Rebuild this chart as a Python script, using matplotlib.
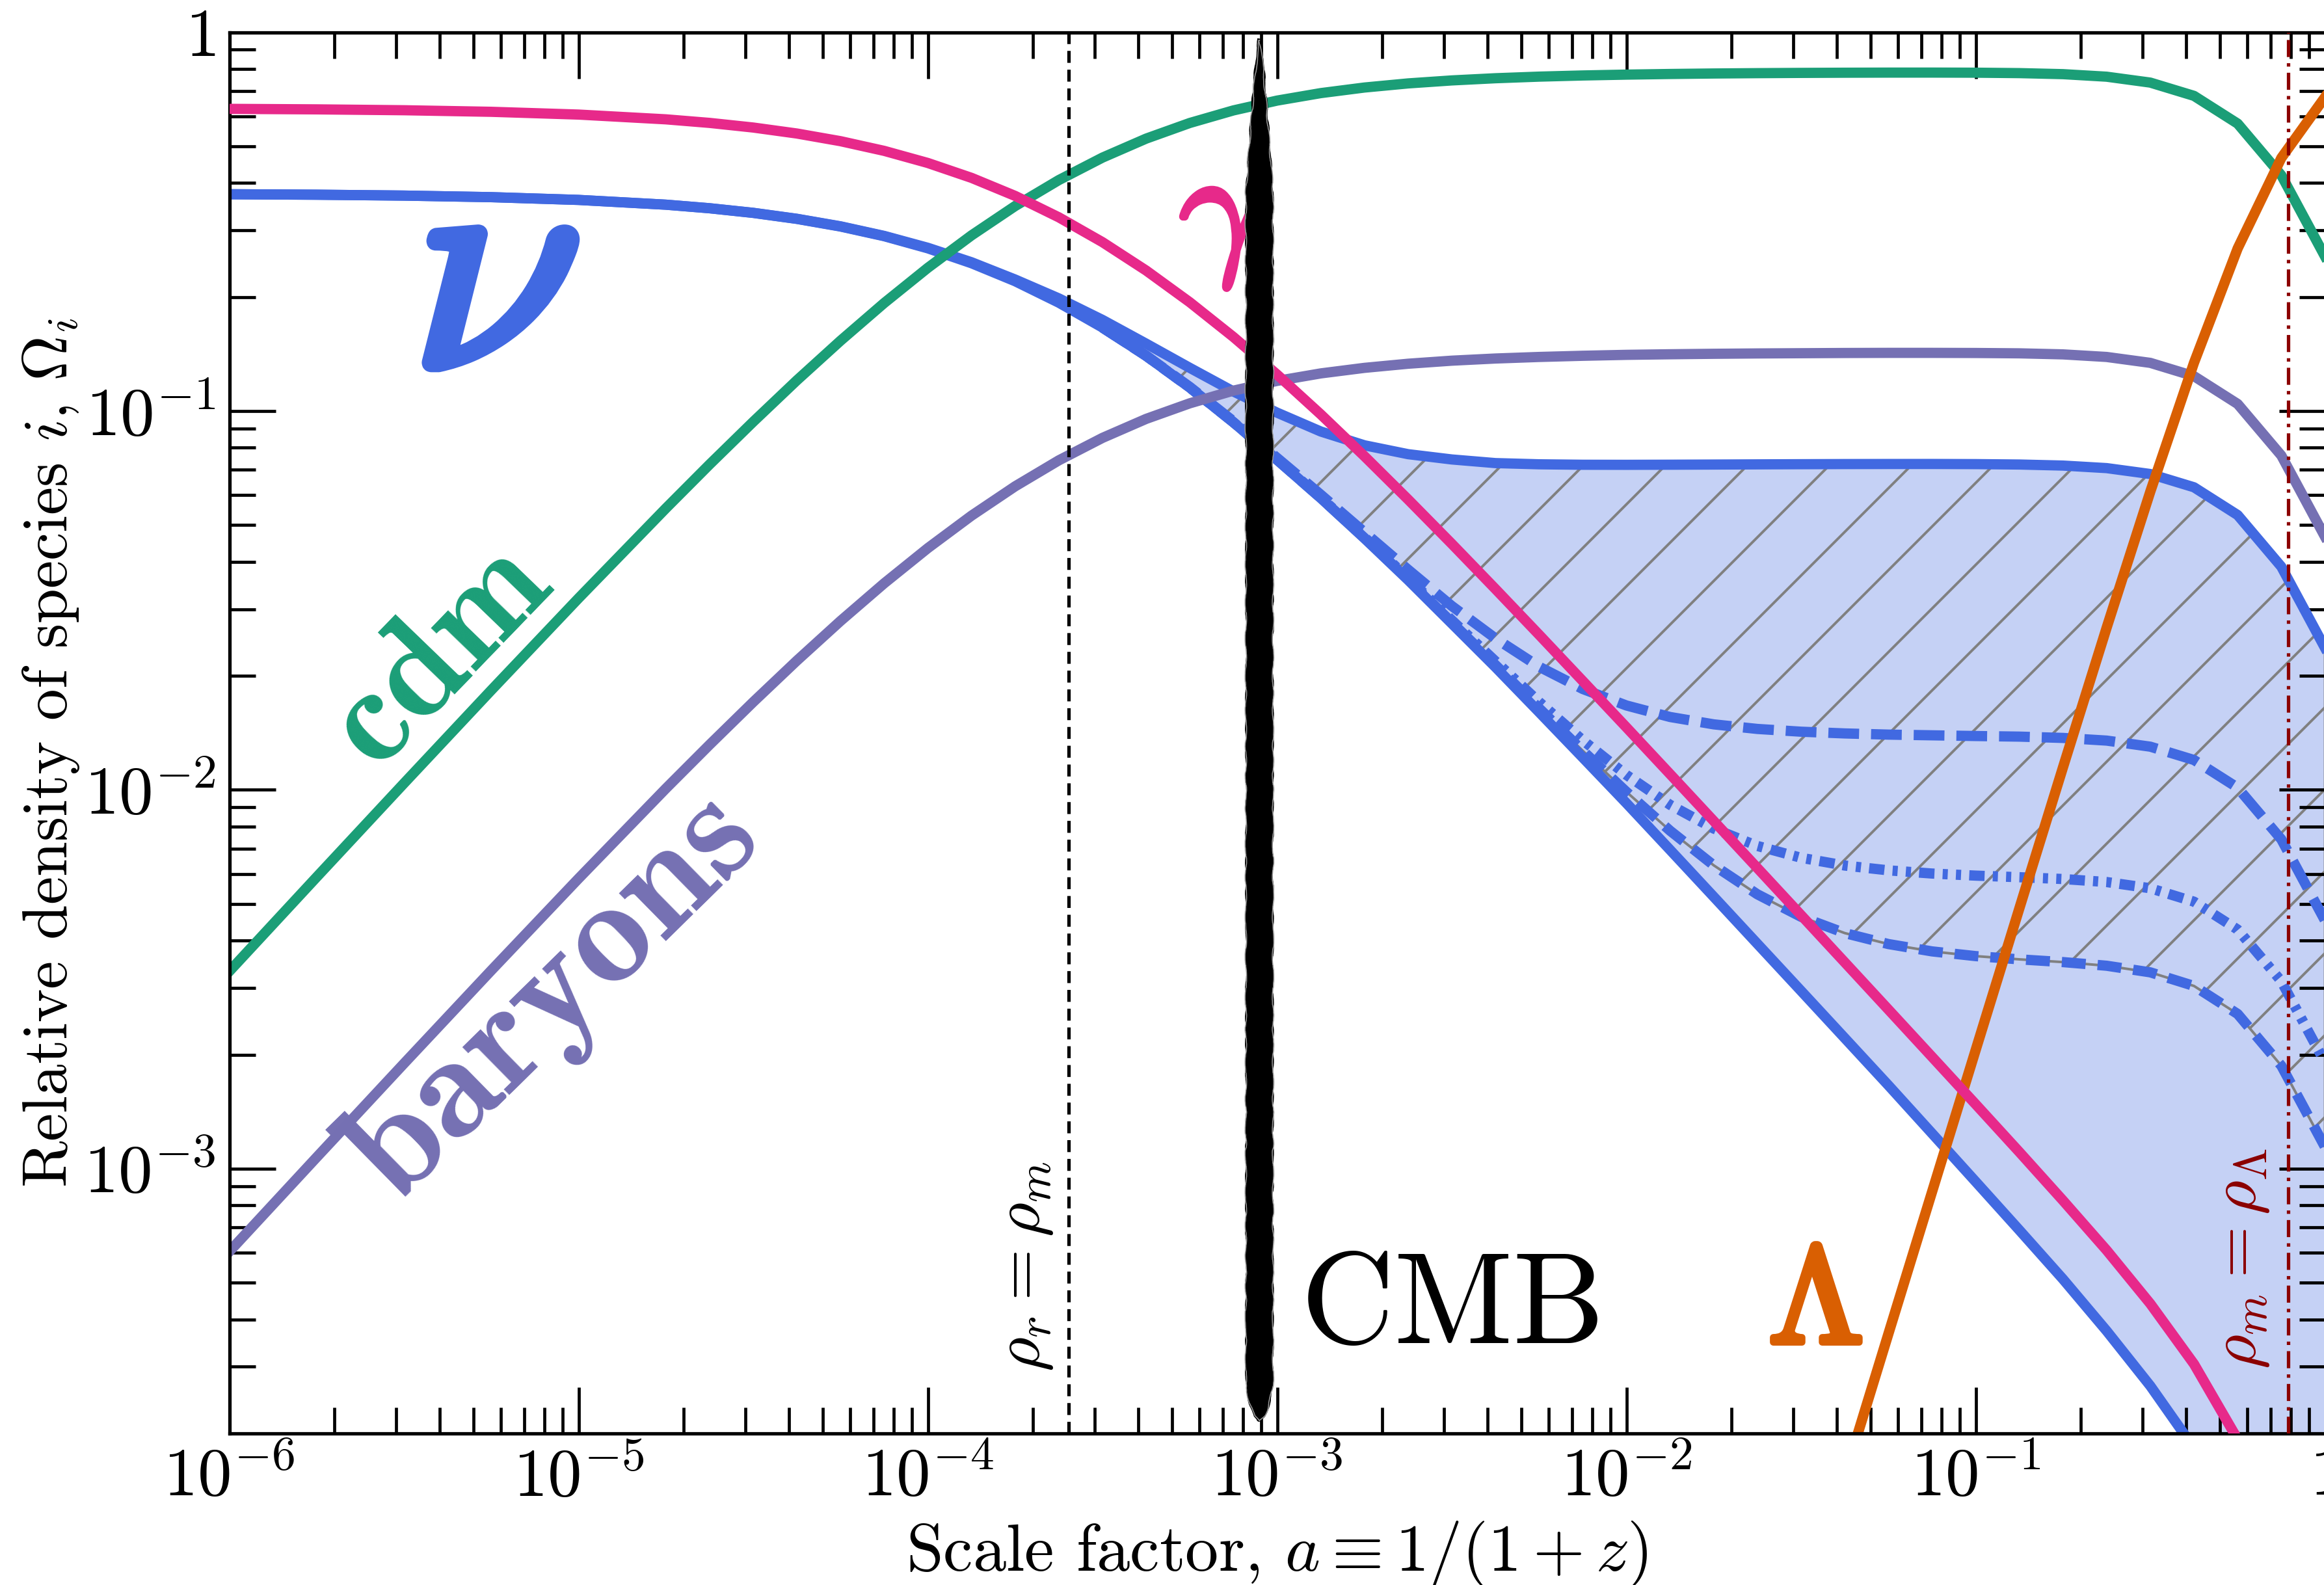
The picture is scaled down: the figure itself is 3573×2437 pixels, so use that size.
import numpy as np
import matplotlib
matplotlib.use("Agg")
import matplotlib.pyplot as plt
import matplotlib.patheffects as pe
from matplotlib.patches import Polygon
from matplotlib.ticker import FixedLocator, FixedFormatter, LogLocator, NullFormatter

# ---------------------------------------------------------------------------
# Density fractions Omega_i(a) of each species versus scale factor a
# ---------------------------------------------------------------------------
a = [1e-6, 1.778e-6, 3.162e-6, 5.623e-6, 1e-5, 1.778e-5, 2.371e-5, 3.162e-5,
     4.217e-5, 5.623e-5, 7.499e-5, 1e-4, 1.334e-4, 1.778e-4, 2.371e-4,
     3.162e-4, 4.217e-4, 5.623e-4, 7.499e-4, 1e-3, 1.334e-3, 1.778e-3,
     2.371e-3, 3.162e-3, 4.217e-3, 5.623e-3, 7.499e-3, 1e-2, 1.334e-2,
     1.778e-2, 2.371e-2, 3.162e-2, 4.217e-2, 5.623e-2, 7.499e-2, 0.1, 0.1334,
     0.1778, 0.2371, 0.3162, 0.4217, 0.5623, 0.7499, 1.0]

omega_gamma = [0.6275, 0.6256, 0.6223, 0.6164, 0.6061, 0.5888, 0.5762, 0.5602,
               0.5402, 0.5156, 0.4861, 0.4516, 0.4125, 0.3697, 0.3246, 0.2791,
               0.2349, 0.1937, 0.1568, 0.1248, 0.09793, 0.07599, 0.05842,
               0.04462, 0.03390, 0.02567, 0.01938, 0.01462, 0.01100, 0.008275,
               0.006218, 0.004670, 0.003506, 0.002631, 0.001973, 0.001479,
               0.001106, 0.000824, 0.000609, 0.000440, 0.000305, 0.000193,
               0.000106, 0.0000484]

omega_cdm = [0.003318, 0.005882, 0.01040, 0.01832, 0.03205, 0.05535, 0.07225,
             0.09365, 0.1205, 0.1533, 0.1928, 0.2388, 0.2909, 0.3476, 0.4070,
             0.4666, 0.5237, 0.5759, 0.6217, 0.6599, 0.6906, 0.7144, 0.7325,
             0.7459, 0.7559, 0.7633, 0.7687, 0.7727, 0.7757, 0.7780, 0.7796,
             0.7808, 0.7817, 0.7822, 0.7823, 0.7818, 0.7798, 0.7749, 0.7630,
             0.7361, 0.6791, 0.5737, 0.4192, 0.2559]

omega_baryons = [0.000604, 0.001071, 0.001894, 0.003336, 0.005833, 0.01008,
                 0.01315, 0.01705, 0.02193, 0.02791, 0.03509, 0.04346, 0.05295,
                 0.06327, 0.07409, 0.08493, 0.09533, 0.1048, 0.1132, 0.1201,
                 0.1257, 0.1300, 0.1333, 0.1358, 0.1376, 0.1389, 0.1399, 0.1407,
                 0.1412, 0.1416, 0.1419, 0.1421, 0.1423, 0.1424, 0.1424, 0.1423,
                 0.1420, 0.1411, 0.1389, 0.1340, 0.1236, 0.1044, 0.07631,
                 0.04658]

# massless neutrinos (lower solid) and heaviest-mass neutrinos (upper solid)
omega_nu_massless = [0.3735, 0.3724, 0.3704, 0.3669, 0.3608, 0.3505, 0.3430,
                     0.3334, 0.3215, 0.3069, 0.2894, 0.2688, 0.2455, 0.2201,
                     0.1932, 0.1661, 0.1398, 0.1153, 0.09331, 0.07429, 0.05887,
                     0.04613, 0.03581, 0.02749, 0.02109, 0.01604, 0.01217,
                     0.009222, 0.006941, 0.005222, 0.003923, 0.002947, 0.002212,
                     0.001660, 0.001239, 0.000924, 0.000688, 0.000511, 0.000373,
                     0.000267, 0.000183, 0.000115, 0.0000629, 0.0000288]

omega_nu_heavy = [0.3735, 0.3724, 0.3704, 0.3669, 0.3608, 0.3505, 0.3430,
                  0.3336, 0.3217, 0.3073, 0.2899, 0.2697, 0.2470, 0.2224,
                  0.1983, 0.1740, 0.1506, 0.1300, 0.1126, 0.0990, 0.08828,
                  0.0812, 0.07693, 0.0745, 0.07287, 0.07234, 0.07214, 0.07211,
                  0.07216, 0.07223, 0.07231, 0.07238, 0.07244, 0.07247, 0.07248,
                  0.07242, 0.07224, 0.07178, 0.07068, 0.06819, 0.06291, 0.05314,
                  0.03883, 0.02370]

# intermediate neutrino masses, from a = 3.162e-4 onwards
a_massive = a[15:]
omega_nu_mid = [0.1661, 0.1401, 0.1158, 0.09396, 0.07520, 0.06013, 0.04787,
                0.03814, 0.03058, 0.02511, 0.02114, 0.01846, 0.01670, 0.01557,
                0.01489, 0.01448, 0.01424, 0.01409, 0.01399, 0.01393, 0.01387,
                0.01382, 0.01371, 0.01349, 0.01300, 0.01199, 0.01013, 0.007403,
                0.004519]
omega_nu_light = [0.1661, 0.1399, 0.1154, 0.09343, 0.07446, 0.05910, 0.04645,
                  0.03624, 0.02806, 0.02186, 0.01707, 0.01352, 0.01095,
                  0.009128, 0.007904, 0.007111, 0.006617, 0.006313, 0.006131,
                  0.006013, 0.005937, 0.005880, 0.005816, 0.005710, 0.005498,
                  0.005067, 0.004277, 0.003125, 0.001907]
omega_nu_lightest = [0.1661, 0.1398, 0.1153, 0.09335, 0.07435, 0.05895,
                     0.04625, 0.03597, 0.02769, 0.02137, 0.01642, 0.01268,
                     0.009880, 0.007798, 0.006321, 0.005300, 0.004623, 0.004187,
                     0.003917, 0.003746, 0.003640, 0.003569, 0.003510, 0.003433,
                     0.003298, 0.003036, 0.002561, 0.001870, 0.001141]

# dark energy, from a = 3.162e-2 onwards
a_lambda = a[31:]
omega_lambda = [6.50e-5, 1.541e-4, 3.662e-4, 8.683e-4, 2.058e-3, 4.871e-3,
                0.01147, 0.02680, 0.06129, 0.1341, 0.2686, 0.4656, 0.6738]

A_EQ = 2.53e-4          # radiation-matter equality
A_MLAMBDA = 0.785       # matter-Lambda equality
A_CMB = 8.9e-4          # last scattering

XLIM = (1e-6, 1.0)
YLIM = (2e-4, 1.0)
x_ticks = [1e-6, 1e-5, 1e-4, 1e-3, 1e-2, 1e-1, 1.0]
x_ticklabels = [r"$10^{-6}$", r"$10^{-5}$", r"$10^{-4}$", r"$10^{-3}$",
                r"$10^{-2}$", r"$10^{-1}$", r"$1$"]
y_ticks = [1e-3, 1e-2, 1e-1, 1.0]
y_ticklabels = [r"$10^{-3}$", r"$10^{-2}$", r"$10^{-1}$", r"$1$"]

# ---------------------------------------------------------------------------
C_NU = "#4169e1"
C_CDM = "#1b9e77"
C_BAR = "#7570b3"
C_GAM = "#e7298a"
C_LAM = "#d95f02"
C_RED = "#8b0000"

plt.rcParams.update({
    "font.family": "serif",
    "font.serif": ["cmr10"],
    "mathtext.fontset": "cm",
    "axes.unicode_minus": False,
    "lines.scale_dashes": False,
    "hatch.color": "gray",
    "hatch.linewidth": 0.75,
    "axes.linewidth": 1.0,
})

DPI = 378
fig = plt.figure(figsize=(3573 / DPI, 2437 / DPI), dpi=DPI)
ax = fig.add_axes([352.5 / 3573, 233 / 2437, 3222 / 3573, 2154.5 / 2437])
ax.set_xscale("log")
ax.set_yscale("log")
ax.set_xlim(*XLIM)
ax.set_ylim(*YLIM)

LW = 3.0

# shaded neutrino band and hatched massive-neutrino region
ax.fill_between(a, omega_nu_massless, omega_nu_heavy,
                facecolor=(65 / 255, 105 / 255, 225 / 255, 0.3), lw=0, zorder=1)
ax.fill_between(a_massive, omega_nu_lightest, omega_nu_heavy[15:],
                facecolor="none", edgecolor="gray", hatch="/", lw=0.75,
                zorder=1.2)

ax.plot(a, omega_nu_massless, color=C_NU, lw=LW, zorder=2)
ax.plot(a, omega_nu_heavy, color=C_NU, lw=LW, zorder=2)
ax.plot(a_massive, omega_nu_mid, color=C_NU, lw=LW, ls=(0, (9, 3.5)), zorder=2)
ax.plot(a_massive, omega_nu_light, color=C_NU, lw=LW,
        ls=(0, (4.5, 2.4, 1.5, 2.4, 1.5, 2.4)), zorder=2)
ax.plot(a_massive, omega_nu_lightest, color=C_NU, lw=LW, ls=(0, (7, 3.5)),
        zorder=2)

ax.plot(a, omega_cdm, color=C_CDM, lw=LW, zorder=2.2)
ax.plot(a, omega_baryons, color=C_BAR, lw=LW, zorder=2.2)
ax.plot(a_lambda, omega_lambda, color=C_LAM, lw=LW, zorder=2.5)
ax.plot(a, omega_gamma, color=C_GAM, lw=LW, zorder=2.6)

ax.axvline(A_EQ, color="black", lw=1.0, ls=(0, (3.5, 2.0)), zorder=2.7)
ax.axvline(A_MLAMBDA, color=C_RED, lw=1.0, ls=(0, (5, 1.8, 1, 1.8)), zorder=2.7)

# hand-drawn looking marker for last scattering
lx0, lx1 = np.log10(XLIM[0]), np.log10(XLIM[1])
xc = (np.log10(A_CMB) - lx0) / (lx1 - lx0)
t = np.linspace(0, 1, 300)
prof = np.clip(t / 0.025, 0, 1) ** 0.5 * np.clip((1 - t) / 0.11, 0, 1) ** 0.8
half = 0.0058 * prof
ys = 0.0093 + (0.9942 - 0.0093) * t
verts = np.vstack([np.column_stack([xc - half, ys]),
                   np.column_stack([xc + half, ys])[::-1]])
brush = Polygon(verts, closed=True, transform=ax.transAxes, fc="black",
                ec="black", lw=1.0, zorder=3)
brush.set_sketch_params(scale=1.0, length=60, randomness=4)
ax.add_patch(brush)
for off, w, col in [(-1.0, 0.6, "k"), (1.0, 0.6, "k"), (-1.12, 0.3, "0.6"),
                    (1.12, 0.3, "0.6")]:
    ln, = ax.plot(xc + off * half, ys, transform=ax.transAxes, color=col, lw=w,
                  zorder=3.05)
    ln.set_sketch_params(scale=1.2, length=90, randomness=6)

# species labels
ax.text(5.71e-6, 0.1293, r"$\nu$", color=C_NU, fontsize=90, ha="center",
        va="baseline", zorder=4,
        path_effects=[pe.withStroke(linewidth=3.5, foreground=C_NU)])
ax.text(6.93e-4, 0.2542, r"$\gamma$", color=C_GAM, fontsize=45, ha="center",
        va="baseline", zorder=2.9,
        path_effects=[pe.withStroke(linewidth=1.5, foreground=C_GAM)])
ax.text(4.73e-6, 0.0197, "cdm", family="cmb10", color=C_CDM, fontsize=41,
        rotation=46, rotation_mode="anchor", ha="center", va="baseline",
        zorder=4)
ax.text(1.015e-5, 2.43e-3, "baryons", family="cmb10", color=C_BAR, fontsize=44,
        rotation=44.5, rotation_mode="anchor", ha="center", va="baseline",
        zorder=4)
ax.text(1.17e-3, 3.47e-4, "CMB", color="black", fontsize=38, ha="left",
        va="baseline", zorder=4)
ax.text(0.0346, 3.47e-4, r"$\Lambda$", color=C_LAM, fontsize=40, ha="center",
        va="baseline", zorder=4,
        path_effects=[pe.withStroke(linewidth=2.0, foreground=C_LAM)])

ax.text(2.31e-4, 2.91e-4, r"$\rho_r = \rho_m$", color="black", fontsize=19.5,
        rotation=90, ha="right", va="bottom", zorder=4)
ax.text(0.7023, 2.96e-4, r"$\rho_m = \rho_\Lambda$", color=C_RED, fontsize=19.5,
        rotation=90, ha="right", va="bottom", zorder=4)

# axes, ticks and labels
ax.xaxis.set_major_locator(FixedLocator(x_ticks))
ax.xaxis.set_major_formatter(FixedFormatter(x_ticklabels))
ax.yaxis.set_major_locator(FixedLocator(y_ticks))
ax.yaxis.set_major_formatter(FixedFormatter(y_ticklabels))
for axis in (ax.xaxis, ax.yaxis):
    axis.set_minor_locator(LogLocator(base=10, subs=np.arange(2, 10), numticks=50))
    axis.set_minor_formatter(NullFormatter())
ax.tick_params(which="both", direction="in", top=True, right=True)
ax.tick_params(which="major", length=13.5, width=0.9, pad=4, labelsize=20)
ax.tick_params(which="minor", length=7.6, width=0.9)

ax.set_xlabel(r"Scale factor, $a \equiv 1/(1+z)$", fontsize=19.5)
ax.xaxis.set_label_coords(0.5, -0.0613)
ax.set_ylabel(r"Relative density of species $i$, $\Omega_i$", fontsize=18.5)
ax.yaxis.set_label_coords(-0.0705, 0.486)

fig.savefig("out.png", dpi=DPI)
